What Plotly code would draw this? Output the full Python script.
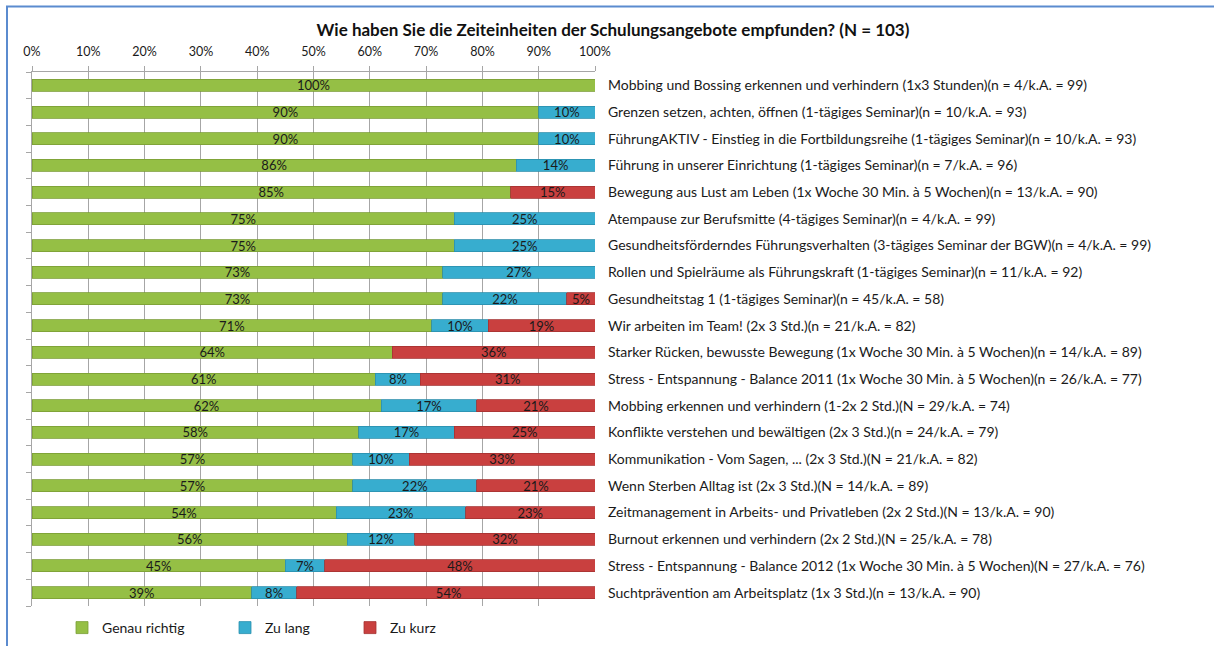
import plotly.graph_objects as go

title = "Wie haben Sie die Zeiteinheiten der Schulungsangebote empfunden? (N = 103)"

categories = [
    "Mobbing und Bossing erkennen und verhindern (1x3 Stunden)(n = 4/k.A. = 99)",
    "Grenzen setzen, achten, öffnen (1-tägiges Seminar)(n = 10/k.A. = 93)",
    "FührungAKTIV - Einstieg in die Fortbildungsreihe (1-tägiges Seminar)(n = 10/k.A. = 93)",
    "Führung in unserer Einrichtung (1-tägiges Seminar)(n = 7/k.A. = 96)",
    "Bewegung aus Lust am Leben (1x Woche 30 Min. à 5 Wochen)(n = 13/k.A. = 90)",
    "Atempause zur Berufsmitte (4-tägiges Seminar)(n = 4/k.A. = 99)",
    "Gesundheitsförderndes Führungsverhalten (3-tägiges Seminar der BGW)(n = 4/k.A. = 99)",
    "Rollen und Spielräume als Führungskraft (1-tägiges Seminar)(n = 11/k.A. = 92)",
    "Gesundheitstag 1 (1-tägiges Seminar)(n = 45/k.A. = 58)",
    "Wir arbeiten im Team! (2x 3 Std.)(n = 21/k.A. = 82)",
    "Starker Rücken, bewusste Bewegung (1x Woche 30 Min. à 5 Wochen)(n = 14/k.A. = 89)",
    "Stress - Entspannung - Balance 2011 (1x Woche 30 Min. à 5 Wochen)(n = 26/k.A. = 77)",
    "Mobbing erkennen und verhindern (1-2x 2 Std.)(N = 29/k.A. = 74)",
    "Konflikte verstehen und bewältigen (2x 3 Std.)(n = 24/k.A. = 79)",
    "Kommunikation - Vom Sagen, ... (2x 3 Std.)(N = 21/k.A. = 82)",
    "Wenn Sterben Alltag ist (2x 3 Std.)(N = 14/k.A. = 89)",
    "Zeitmanagement in Arbeits- und Privatleben (2x 2 Std.)(N = 13/k.A. = 90)",
    "Burnout erkennen und verhindern (2x 2 Std.)(N = 25/k.A. = 78)",
    "Stress - Entspannung - Balance 2012 (1x Woche 30 Min. à 5 Wochen)(N = 27/k.A. = 76)",
    "Suchtprävention am Arbeitsplatz (1x 3 Std.)(n = 13/k.A. = 90)",
]

genau_richtig = [100, 90, 90, 86, 85, 75, 75, 73, 73, 71, 64, 61, 62, 58, 57, 57, 54, 56, 45, 39]
zu_lang = [None, 10, 10, 14, None, 25, 25, 27, 22, 10, None, 8, 17, 17, 10, 22, 23, 12, 7, 8]
zu_kurz = [None, None, None, None, 15, None, None, None, 5, 19, 36, 31, 21, 25, 33, 21, 23, 32, 48, 54]

x_ticks = [0, 10, 20, 30, 40, 50, 60, 70, 80, 90, 100]
x_tick_labels = [f"{v}%" for v in x_ticks]

series_names = ["Genau richtig", "Zu lang", "Zu kurz"]
series_values = [genau_richtig, zu_lang, zu_kurz]
series_colors = ["#95BF45", "#37ADCF", "#C9403F"]
series_edges = ["#7A9E35", "#2A8FAD", "#A53232"]

FONT = "Lato, 'Open Sans', sans-serif"

W, H = 1214, 646
L, R, T, B = 32, 619, 72, 40
pw, ph = W - L - R, H - T - B


def px_x(p):
    return (p - L) / pw


def px_y(p):
    return (H - B - p) / ph


# legend block left edges (px)
legend_left = [62, 225, 350]

fig = go.Figure()
for i, (name, vals, color, edge) in enumerate(zip(series_names, series_values, series_colors, series_edges)):
    labels = [f"{v}%" if v else "" for v in vals]
    lg = "legend" if i == 0 else f"legend{i + 1}"
    fig.add_trace(go.Bar(
        y=categories, x=vals, name=name, orientation="h",
        marker=dict(color=color, line=dict(color=edge, width=0.8)),
        text=labels, texttemplate="%{text}", textposition="inside", insidetextanchor="middle",
        textfont=dict(color="#1a1a1a", size=13, family=FONT),
        constraintext="none", cliponaxis=True, legend=lg,
        hovertemplate="%{y}<br>" + name + ": %{x}%<extra></extra>",
    ))

# dummy trace to activate a left axis with ticks between categories
fig.add_trace(go.Scatter(x=[None], y=[None], yaxis="y2", showlegend=False, hoverinfo="skip"))

legend_common = dict(orientation="h", xanchor="left", yanchor="middle",
                     font=dict(size=14, family=FONT, color="#1a1a1a"),
                     bgcolor="rgba(0,0,0,0)", borderwidth=0)

fig.update_layout(
    width=W, height=H,
    margin=dict(l=L, r=R, t=T, b=B, autoexpand=False),
    paper_bgcolor="white", plot_bgcolor="white",
    barmode="stack", bargap=0.55,
    font=dict(family=FONT, size=14, color="#1a1a1a"),
    title=dict(text="<b>" + title + "</b>", x=613 / W, xref="container", xanchor="center",
               y=1 - 30 / H, yref="container", yanchor="middle",
               font=dict(size=17, family=FONT, color="#111")),
    xaxis=dict(side="top", range=[0, 100], tickvals=x_ticks, ticktext=x_tick_labels,
               showgrid=True, gridcolor="#A6A6A6", gridwidth=1,
               showline=True, linecolor="#A6A6A6", linewidth=1,
               ticks="outside", ticklen=5, tickcolor="#A6A6A6",
               ticklabelstandoff=5,
               tickfont=dict(size=12.5, family=FONT, color="#1a1a1a"),
               zeroline=False, fixedrange=True),
    yaxis=dict(side="right", autorange="reversed", ticks="", showline=False, showgrid=False,
               ticklabelstandoff=12, tickfont=dict(size=14, family=FONT, color="#1a1a1a"),
               fixedrange=True),
    yaxis2=dict(overlaying="y", side="left", range=[0, 20], tickvals=list(range(0, 21)),
                showticklabels=False, ticks="outside", ticklen=5, tickcolor="#A6A6A6",
                showline=True, linecolor="#A6A6A6", linewidth=1, showgrid=False,
                zeroline=False, fixedrange=True),
    legend=dict(x=px_x(legend_left[0]), y=px_y(628), **legend_common),
    legend2=dict(x=px_x(legend_left[1]), y=px_y(628), **legend_common),
    legend3=dict(x=px_x(legend_left[2]), y=px_y(628), **legend_common),
    shapes=[dict(type="rect", xref="paper", yref="paper",
                 x0=px_x(7), x1=px_x(1230), y0=px_y(670), y1=px_y(6.5),
                 line=dict(color="#5B8BCF", width=2), fillcolor="rgba(0,0,0,0)", layer="below")],
    showlegend=True,
)

fig.write_html("out.html", config={"displayModeBar": False},
               post_script="document.body.style.margin='0';document.body.style.overflow='hidden';")
